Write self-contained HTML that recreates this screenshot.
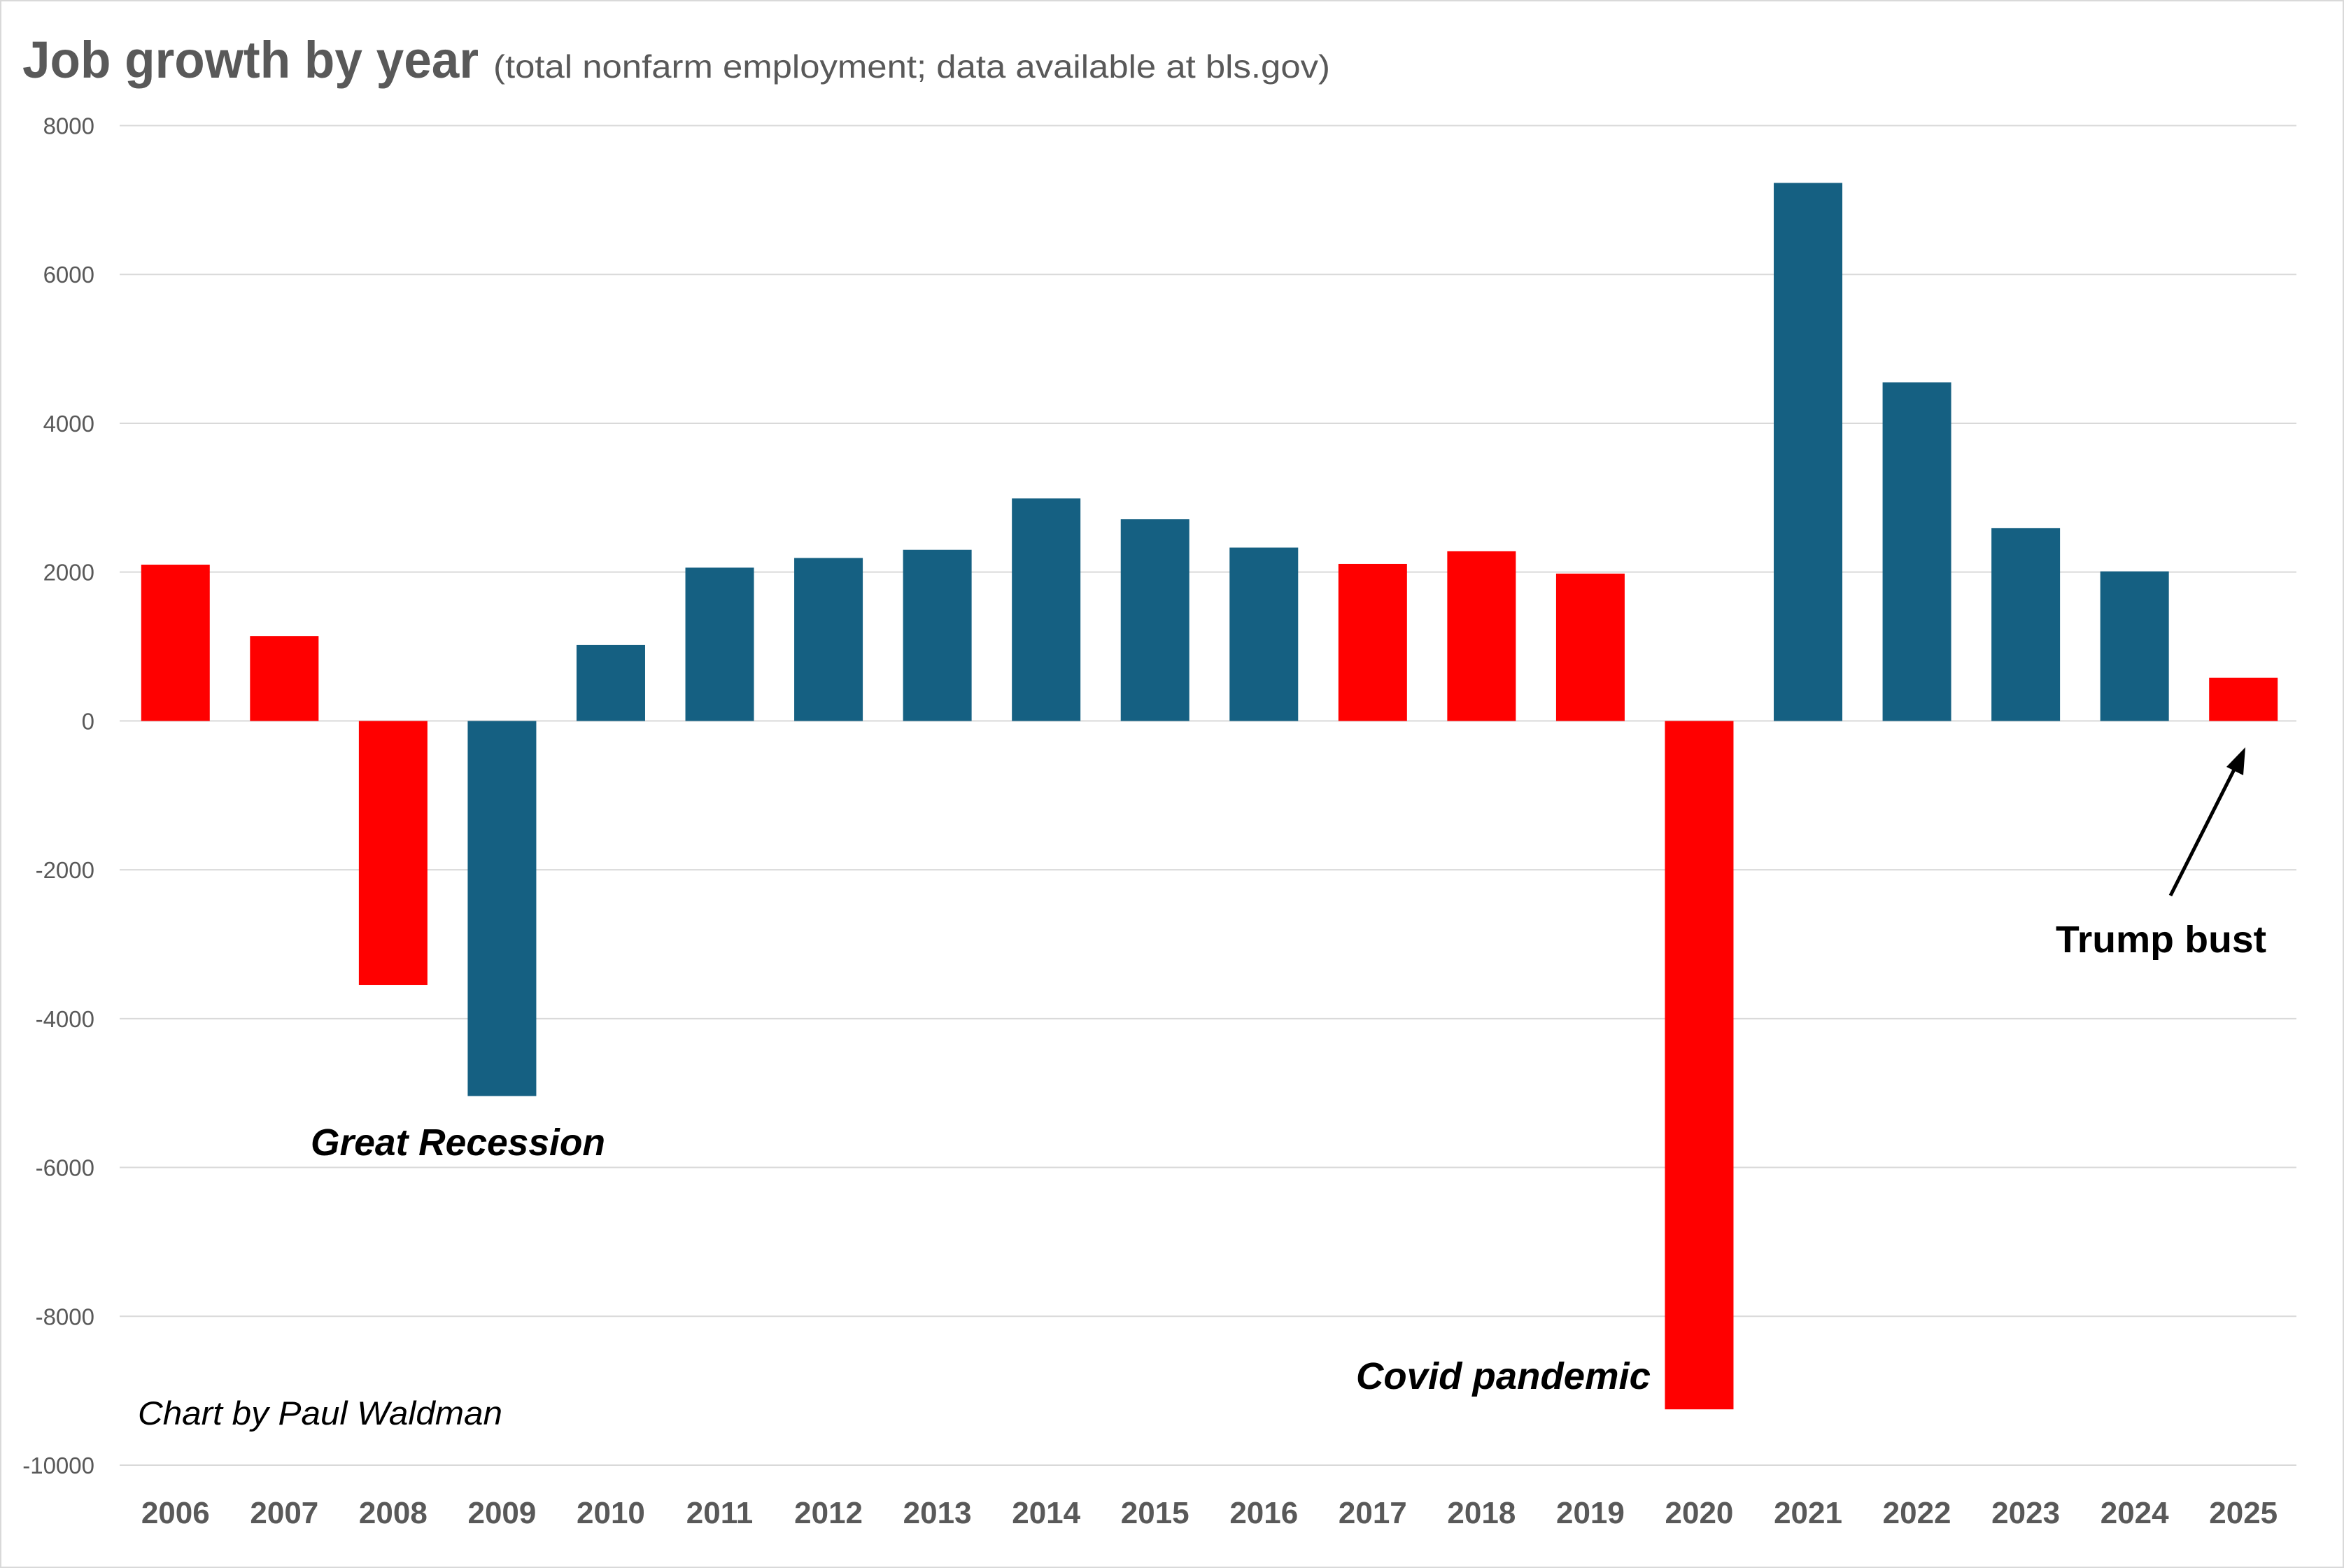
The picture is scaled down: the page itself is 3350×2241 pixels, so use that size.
<!DOCTYPE html>
<html><head><meta charset="utf-8"><style>
html,body{margin:0;padding:0;background:#fff}
svg{display:block}
text{font-family:"Liberation Sans",sans-serif}
</style></head><body>
<svg id="chart" width="3350" height="2241" viewBox="0 0 3350 2241" xmlns="http://www.w3.org/2000/svg">
<rect x="1" y="1" width="3348" height="2239" fill="#fff" stroke="#d9d9d9" stroke-width="2"/>
<text x="32" y="111" font-size="74" font-weight="bold" fill="#595959" textLength="652" lengthAdjust="spacingAndGlyphs">Job growth by year</text>
<text x="705" y="111" font-size="46" fill="#595959" textLength="1196" lengthAdjust="spacingAndGlyphs">(total nonfarm employment; data available at bls.gov)</text>
<g id="grid"></g>
<g id="bars"></g>
<g id="xlabels"></g>
<text x="444" y="1651" font-size="54" font-weight="bold" font-style="italic" fill="#000" textLength="421" lengthAdjust="spacingAndGlyphs">Great Recession</text>
<text x="1938" y="1985" font-size="54" font-weight="bold" font-style="italic" fill="#000" textLength="421" lengthAdjust="spacingAndGlyphs">Covid pandemic</text>
<text x="2938" y="1361" font-size="54" font-weight="bold" fill="#000" textLength="301" lengthAdjust="spacingAndGlyphs">Trump bust</text>
<text x="197" y="2036" font-size="47" font-style="italic" fill="#000" textLength="521" lengthAdjust="spacingAndGlyphs">Chart by Paul Waldman</text>
<g>
<line x1="3102" y1="1280" x2="3196" y2="1094" stroke="#000" stroke-width="5"/>
<polygon points="3209,1068 3206,1108 3182,1096" fill="#000"/>
</g>
</svg>
<script>
const years = ["2006","2007","2008","2009","2010","2011","2012","2013","2014","2015","2016","2017","2018","2019","2020","2021","2022","2023","2024","2025"];
const jobGrowth = [2100,1140,-3550,-5040,1020,2060,2190,2300,2990,2710,2330,2110,2280,1980,-9250,7230,4550,2590,2010,580];
const isRed = [true,true,true,false,false,false,false,false,false,false,false,true,true,true,true,false,false,false,false,true];
const yTicks = [8000,6000,4000,2000,0,-2000,-4000,-6000,-8000,-10000];

const NS="http://www.w3.org/2000/svg";
const plotL=173, plotR=3284, yMax=8000, yMin=-10000, yTop=179.5, yBot=2094;
function yScale(v){return yTop+(yMax-v)/(yMax-yMin)*(yBot-yTop);}
const band=(plotR-plotL)/years.length;
function xCenter(i){return plotL+band*(i+0.5);}
const barW=band*0.63;

const grid=document.getElementById('grid');
yTicks.forEach(t=>{
  const y=yScale(t);
  const l=document.createElementNS(NS,'line');
  
  
  l.setAttribute('x1',171);l.setAttribute('x2',3282);
  l.setAttribute('y1',y);l.setAttribute('y2',y);
  l.setAttribute('stroke','#d9d9d9');l.setAttribute('stroke-width','2');
  grid.appendChild(l);
  const tx=document.createElementNS(NS,'text');
  
  
  tx.setAttribute('x',135);tx.setAttribute('y',y+12);
  tx.setAttribute('text-anchor','end');tx.setAttribute('font-size','33');tx.setAttribute('fill','#595959');
  tx.textContent=t;
  grid.appendChild(tx);
});

const bars=document.getElementById('bars');
const xl=document.getElementById('xlabels');
jobGrowth.forEach((v,i)=>{
  const y0=yScale(0), y1=yScale(v);
  const r=document.createElementNS(NS,'rect');
  
  
  r.setAttribute('x',xCenter(i)-barW/2);r.setAttribute('width',barW);
  r.setAttribute('y',Math.min(y0,y1));r.setAttribute('height',Math.abs(y1-y0));
  r.setAttribute('fill',isRed[i]?'#ff0000':'#156082');
  bars.appendChild(r);
  const t=document.createElementNS(NS,'text');
  
  
  t.setAttribute('x',xCenter(i));t.setAttribute('y',2177);
  t.setAttribute('text-anchor','middle');t.setAttribute('font-size','44');t.setAttribute('font-weight','bold');t.setAttribute('fill','#595959');
  t.textContent=years[i];
  xl.appendChild(t);
});
</script>
</body></html>
